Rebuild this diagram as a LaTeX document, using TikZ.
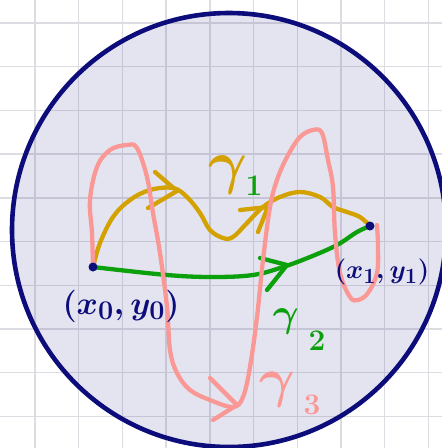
\documentclass[tikz,border=0pt]{standalone}
\definecolor{navy}{RGB}{12,12,122}
\definecolor{gold}{RGB}{212,162,0}
\definecolor{leafgreen}{RGB}{12,160,12}
\definecolor{salmon}{RGB}{250,152,150}
\definecolor{gridgrey}{RGB}{220,220,226}
\begin{document}
\begin{tikzpicture}[x=1pt,y=-1pt,
  curve/.style={line width=4.3pt,line cap=round,line join=round},
  gridline/.style={gridgrey,line width=1.4pt},
  lab/.style={inner sep=0pt,font=\Huge\boldmath}]
\useasboundingbox (0,0) rectangle (442,448);
\fill[white] (0,0) rectangle (442,448);
% squared paper
\foreach \i in {0,...,9} {
  \draw[gridline] (35+43.7*\i,0) -- (35+43.7*\i,448);
  \draw[gridline] (0,23+43.7*\i) -- (442,23+43.7*\i);
}
\filldraw[navy,fill opacity=0.11,line width=4.6pt] (229,230) circle (217pt);
% end points
\coordinate (p0) at (93,267);
\coordinate (p1) at (370,226);
\coordinate (q1) at (377,225);
% gamma 1
\draw[curve,gold] plot[smooth,tension=0.6] coordinates {(p0) (100,243) (113,217) (130,200) (150,190) (173,188) (187,197) (200,213) (210,230) (223,238) (233,237) (247,223) (263,207) (280,197) (300,192) (320,197) (333,207) (347,212) (360,217) (p1)};
\draw[curve,gold] (155,172) -- (177,191) -- (148,208);
\draw[curve,gold] (240,210) -- (268,207) -- (258,232);
% gamma 2
\draw[curve,leafgreen] plot[smooth,tension=0.6] coordinates {(p0) (167,275) (213,277) (253,275) (283,267) (310,257) (337,245) (357,232) (p1)};
\draw[curve,leafgreen] (260,258) -- (287,265) -- (267,290);
% gamma 3
\draw[curve,salmon] plot[smooth,tension=0.6] coordinates {(p0) (92,233) (90,200) (97,167) (110,150) (127,145) (137,148) (147,177) (153,213) (160,253) (167,307) (170,350) (177,373) (190,390) (210,400) (233,407) (243,397) (250,367) (257,317) (263,260) (270,207) (277,180) (287,157) (300,137) (313,130) (322,133) (328,160) (333,187) (335,233) (340,273) (350,297) (358,300) (368,293) (377,273) (378,247) (q1)};
\draw[curve,salmon] (210,378) -- (237,405) -- (213,420);
\fill[navy] (p0) circle (4.5pt);
\fill[navy] (p1) circle (4.5pt);
% labels
\node[lab,gold,scale=2.4] (g1) at (228,175) {$\gamma$};
\node[lab,leafgreen,scale=1.2] (g1i) at (254,186) {$1$};
\node[lab,leafgreen,scale=1.6] (g2) at (286,322) {$\gamma$};
\node[lab,leafgreen,scale=1.2] (g2i) at (317,341) {$2$};
\node[lab,salmon,scale=2.2] (g3) at (277,390) {$\gamma$};
\node[lab,salmon,scale=1.2] (g3i) at (312,405) {$3$};
\node[lab,navy,scale=1.3] (l0) at (121,306) {$(x_0,y_0)$};
\node[lab,navy,scale=1.05] (l1) at (382,272) {$(x_1,y_1)$};
\end{tikzpicture}
\end{document}
